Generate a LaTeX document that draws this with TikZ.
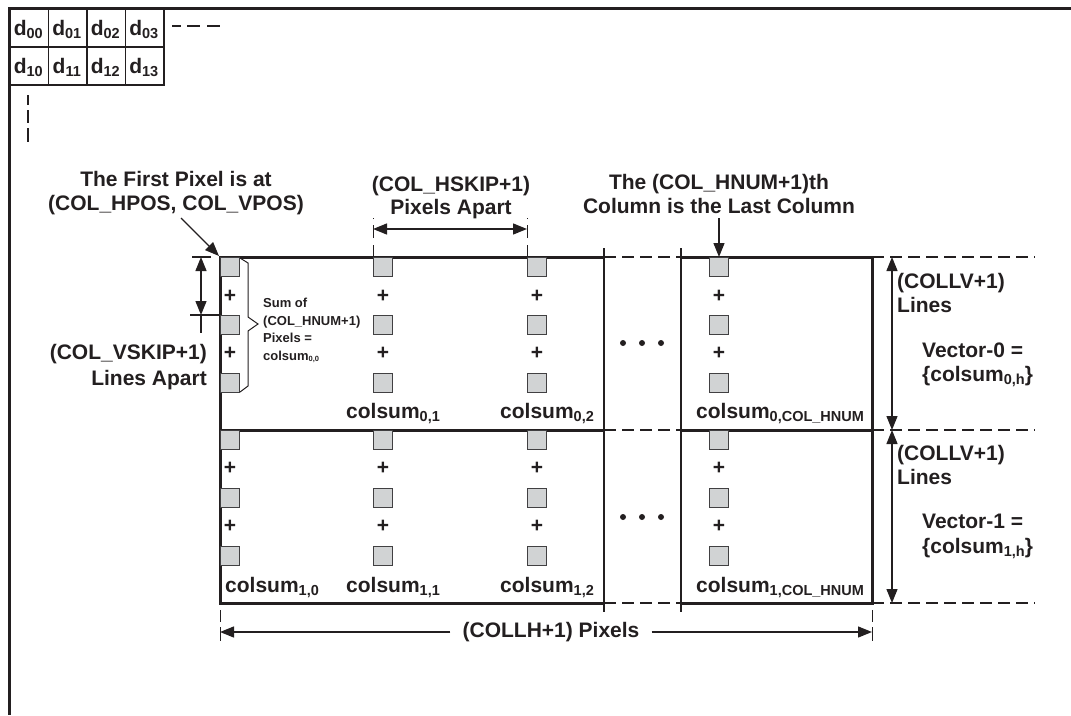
\documentclass[tikz,border=0pt]{standalone}
\usepackage{fontspec}
\setmainfont{Liberation Sans}
\usetikzlibrary{arrows.meta}
\newcommand{\subtxt}[1]{\raisebox{-3.5pt}{\fontsize{14.5}{15}\selectfont #1}}
\newcommand{\subsm}[1]{\raisebox{-1.5pt}{\fontsize{7.5}{8}\selectfont #1}}
\definecolor{ink}{HTML}{231F20}
\definecolor{pixfill}{HTML}{D1D3D4}
\definecolor{pixdraw}{HTML}{414042}
\begin{document}
\begin{tikzpicture}[x=1pt,y=-1pt,
  txt/.style={inner sep=0pt, text=ink, font=\fontsize{21}{24}\selectfont\bfseries},
  small/.style={inner sep=0pt, text=ink, font=\fontsize{13}{15}\selectfont\bfseries},
  boldline/.style={draw=ink, line width=3pt},
  fineline/.style={draw=ink, line width=1.3pt},
  dashline/.style={draw=ink, line width=1.3pt, dash pattern=on 12pt off 6pt},
  dimarrow/.style={draw=ink, line width=1.3pt, {Triangle[length=14pt,width=11pt]}-{Triangle[length=14pt,width=11pt]}},
  onearrow/.style={draw=ink, line width=1.3pt, -{Triangle[length=14pt,width=11pt]}},
  pix/.style={draw=pixdraw, fill=pixfill, line width=1.4pt, minimum size=19pt, inner sep=0pt, anchor=north west},
  plus/.style={txt, anchor=base},
  cellbox/.style={draw=ink, line width=1.5pt, minimum width=38.5pt, minimum height=38pt, anchor=north west, inner sep=0pt},
  celltxt/.style={txt, anchor=base},
  dot/.style={circle, fill=ink, inner sep=0pt, minimum size=6pt}
]
\useasboundingbox (0,0) rectangle (1071,715);

% outer frame
\coordinate (frTL) at (9,8);
\coordinate (frTR) at (1071,8);
\coordinate (frBL) at (9,715);
\draw[draw=ink, line width=3pt] (frTR) -- (frTL) -- (frBL);

% data matrix
\foreach \r in {0,1}{
  \foreach \c in {0,1,2,3}{
    \node[cellbox] (cell\r\c) at ({9+38.5*\c},{8+38*\r}) {};
    \node[celltxt] (d\r\c) at ({9+38.5*\c+19.25},{35+38*\r}) {d\subtxt{\r\c}};
  }
}
\coordinate (mdashA) at (172,26);
\coordinate (mdashB) at (221,26);
\draw[draw=ink, line width=1.2pt, dash pattern=on 9pt off 6pt on 13pt off 7pt on 13pt] (mdashA) -- (mdashB);
\coordinate (mvdashA) at (28,95);
\coordinate (mvdashB) at (28,142);
\draw[draw=ink, line width=1.2pt, dash pattern=on 10pt off 5pt on 13pt off 5pt on 14pt] (mvdashA) -- (mvdashB);

% boxes
\coordinate (bTL) at (220,257);
\coordinate (bML) at (220,430);
\coordinate (bBL) at (220,603);
\coordinate (bTM) at (604,257);
\coordinate (bMM) at (604,430);
\coordinate (bBM) at (604,603);
\coordinate (cTL) at (681,257);
\coordinate (cML) at (681,430);
\coordinate (cBL) at (681,603);
\coordinate (cTR) at (872,257);
\coordinate (cMR) at (872,430);
\coordinate (cBR) at (872,603);
\draw[boldline] (bTM) -- (bTL) -- (bBL) -- (bBM);
\draw[boldline] (bML) -- (bMM);
\draw[boldline] (cTL) -- (cTR) -- (cBR) -- (cBL);
\draw[boldline] (cML) -- (cMR);
\coordinate (vA1) at (604,248);
\coordinate (vA2) at (604,612);
\coordinate (vB1) at (681,248);
\coordinate (vB2) at (681,612);
\draw[fineline] (vA1) -- (vA2);
\draw[fineline] (vB1) -- (vB2);
% dashed continuations
\coordinate (dr1) at (1035,257);
\coordinate (dr2) at (1035,430);
\coordinate (dr3) at (1035,603);
\draw[dashline] (bTM) -- (cTL);
\draw[dashline] (bMM) -- (cML);
\draw[dashline] (bBM) -- (cBL);
\draw[dashline] (cTR) -- (dr1);
\draw[dashline] (cMR) -- (dr2);
\draw[dashline] (cBR) -- (dr3);

% pixels and plus signs
\foreach \cx/\n in {220/a,373/b,527/c,709/d}{
  \foreach \ty/\m in {257/1,315/2,373/3,430/4,488/5,546/6}{
    \node[pix] (p\n\m) at (\cx,\ty) {};
  }
  \foreach \py/\m in {295/1,352/2,467/3,525/4}{
    \node[plus] (pl\n\m) at ({\cx+10},{\py+7}) {+};
  }
}

% ellipsis dots
\foreach \dx/\n in {623/1,642/2,661/3}{
  \node[dot] (eu\n) at (\dx,343) {};
  \node[dot] (el\n) at (\dx,517) {};
}

% colsum labels
\node[txt, anchor=base west] (cs01) at (346,418) {colsum\subtxt{0,1}};
\node[txt, anchor=base west] (cs02) at (500,418) {colsum\subtxt{0,2}};
\node[txt, anchor=base west] (cs0n) at (696,418) {colsum\subtxt{0,COL\_HNUM}};
\node[txt, anchor=base west] (cs10) at (225,592) {colsum\subtxt{1,0}};
\node[txt, anchor=base west] (cs11) at (346,592) {colsum\subtxt{1,1}};
\node[txt, anchor=base west] (cs12) at (500,592) {colsum\subtxt{1,2}};
\node[txt, anchor=base west] (cs1n) at (696,592) {colsum\subtxt{1,COL\_HNUM}};

% heading 1 : first pixel
\node[txt, anchor=base] (fp1) at (176,186) {The First Pixel is at};
\node[txt, anchor=base] (fp2) at (176,210) {(COL\_HPOS, COL\_VPOS)};
\coordinate (fpstart) at (181,218);
\coordinate (fpend) at (219,256);
\draw[onearrow] (fpstart) -- (fpend);

% heading 2 : hskip
\node[txt, anchor=base] (hs1) at (451,191) {(COL\_HSKIP+1)};
\node[txt, anchor=base] (hs2) at (451,214) {Pixels Apart};
\coordinate (hsL) at (373,229);
\coordinate (hsR) at (527,229);
\draw[dimarrow] (hsL) -- (hsR);
\coordinate (hsLb) at (373,257);
\coordinate (hsLt) at (373,218);
\coordinate (hsRb) at (527,257);
\coordinate (hsRt) at (527,218);
\draw[draw=ink, line width=1pt, dash pattern=on 12pt off 7pt on 13pt off 6pt on 1pt] (hsLb) -- (hsLt);
\draw[draw=ink, line width=1pt, dash pattern=on 12pt off 7pt on 13pt off 6pt on 1pt] (hsRb) -- (hsRt);

% heading 3 : last column
\node[txt, anchor=base] (lc1) at (719,189) {The (COL\_HNUM+1)th};
\node[txt, anchor=base] (lc2) at (719,213) {Column is the Last Column};
\coordinate (lcstart) at (719,218);
\coordinate (lcend) at (719,257);
\draw[onearrow] (lcstart) -- (lcend);

% vskip dimension
\node[txt, anchor=base east] (vs1) at (207,359) {(COL\_VSKIP+1)};
\node[txt, anchor=base east] (vs2) at (207,385) {Lines Apart};
\coordinate (vsT) at (201,257);
\coordinate (vsB) at (201,315);
\coordinate (vsE) at (201,333);
\draw[dimarrow] (vsT) -- (vsB);
\draw[fineline] (vsB) -- (vsE);
\coordinate (vxT1) at (192,257);
\coordinate (vxT2) at (211,257);
\coordinate (vxB1) at (190,315);
\coordinate (vxB2) at (220,315);
\draw[fineline] (vxT1) -- (vxT2);
\draw[fineline] (vxB1) -- (vxB2);

% brace and sum text
\coordinate (br1) at (240,258);
\coordinate (br2) at (248,263);
\coordinate (br3) at (248,317);
\coordinate (brTip) at (258,324);
\coordinate (br4) at (248,331);
\coordinate (br5) at (248,386);
\coordinate (br6) at (240,392);
\draw[draw=ink, line width=1pt] (br1) -- (br2) -- (br3) -- (brTip) -- (br4) -- (br5) -- (br6);
\node[small, anchor=base west] (sum1) at (263,307) {Sum of};
\node[small, anchor=base west] (sum2) at (263,325) {(COL\_HNUM+1)};
\node[small, anchor=base west] (sum3) at (263,342) {Pixels =};
\node[small, anchor=base west] (sum4) at (263,360) {colsum\subsm{0,0}};

% COLLV dimensions
\coordinate (lvT) at (892,257);
\coordinate (lvM) at (892,430);
\coordinate (lvB) at (892,603);
\draw[dimarrow] (lvT) -- (lvM);
\draw[dimarrow] (lvM) -- (lvB);
\node[txt, anchor=base west] (lv01) at (897,288) {(COLLV+1)};
\node[txt, anchor=base west] (lv02) at (897,312) {Lines};
\node[txt, anchor=base west] (vec01) at (922,357) {Vector-0 =};
\node[txt, anchor=base west] (vec02) at (922,381) {\{colsum\subtxt{0,h}\}};
\node[txt, anchor=base west] (lv11) at (897,460) {(COLLV+1)};
\node[txt, anchor=base west] (lv12) at (897,484) {Lines};
\node[txt, anchor=base west] (vec11) at (922,528) {Vector-1 =};
\node[txt, anchor=base west] (vec12) at (922,553) {\{colsum\subtxt{1,h}\}};

% COLLH dimension
\node[txt, anchor=base] (lh) at (551,637) {(COLLH+1) Pixels};
\coordinate (lhL) at (220,632);
\coordinate (lhR) at (872,632);
\draw[onearrow] (lh.west |- lhL) ++(-12,0) -- (lhL);
\draw[onearrow] (lh.east |- lhR) ++(12,0) -- (lhR);
\coordinate (lhxL1) at (220,610);
\coordinate (lhxL2) at (220,641);
\coordinate (lhxR1) at (872,610);
\coordinate (lhxR2) at (872,641);
\draw[draw=ink, line width=1pt, dash pattern=on 12pt off 5pt on 14pt] (lhxL1) -- (lhxL2);
\draw[draw=ink, line width=1pt, dash pattern=on 12pt off 5pt on 14pt] (lhxR1) -- (lhxR2);
\end{tikzpicture}
\end{document}
